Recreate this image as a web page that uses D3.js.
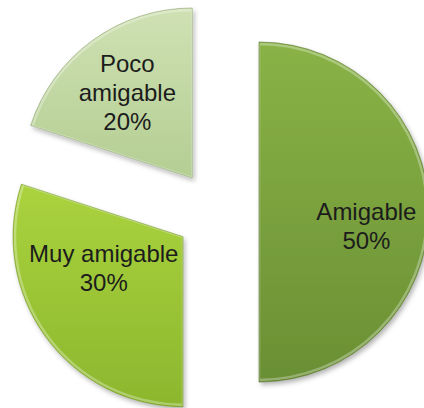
<!DOCTYPE html>
<html>
<head>
<meta charset="utf-8">
<script src="https://cdn.jsdelivr.net/npm/d3@7"></script>
<style>
  html, body { margin: 0; padding: 0; background: #fff; }
  svg { display: block; }
</style>
</head>
<body>
<div id="chart"></div>
<script>
const categories = ['Amigable', 'Muy amigable', 'Poco amigable']
const values = [50, 30, 20]
const labelLines = [['Amigable', '50%'], ['Muy amigable', '30%'], ['Poco', 'amigable', '20%']]

const width = 424
const height = 408
const cx = 217, cy = 212
const radius = 170
const explode = 42

// light -> dark gradient stops for each slice
const colors = [
  ['#89b346', '#6a8f34'],
  ['#abd33e', '#8cb72e'],
  ['#cfe1b3', '#b4ce93']
]
// Excel shuffles labels around a bit so they fit
const labelNudge = [[2, 14], [6, -30], [-3, 0]]

const svg = d3.select('#chart').append('svg')
  .attr('width', width).attr('height', height)
  .attr('viewBox', `0 0 ${width} ${height}`)

const defs = svg.append('defs')
colors.forEach((c, i) => {
  const grad = defs.append('linearGradient').attr('id', `grad${i}`)
    .attr('x1', 0).attr('y1', 0).attr('x2', 0).attr('y2', 1)
  grad.append('stop').attr('offset', '0%').attr('stop-color', c[0])
  grad.append('stop').attr('offset', '100%').attr('stop-color', c[1])
})
const shadow = defs.append('filter').attr('id', 'shadow')
  .attr('x', '-10%').attr('y', '-10%').attr('width', '120%').attr('height', '120%')
shadow.append('feDropShadow').attr('dx', 2).attr('dy', 3).attr('stdDeviation', 2.5)
  .attr('flood-color', '#000').attr('flood-opacity', 0.3)

const pie = d3.pie().sort(null).value(d => d)
const arcs = pie(values)
const arc = d3.arc().innerRadius(0).outerRadius(radius)
const labelArc = d3.arc().innerRadius(radius * 0.62).outerRadius(radius * 0.62)

const g = svg.append('g').attr('transform', `translate(${cx},${cy})`)

const slices = g.selectAll('g.slice').data(arcs).join('g')
  .attr('class', 'slice')
  .attr('transform', d => {
    const mid = (d.startAngle + d.endAngle) / 2
    return `translate(${explode * Math.sin(mid)},${-explode * Math.cos(mid)})`
  })

slices.append('path')
  .attr('d', arc)
  .attr('fill', (d, i) => `url(#grad${i})`)
  .attr('filter', 'url(#shadow)')

// bevel: light inner edge + darker rim
slices.append('path')
  .attr('d', d3.arc().innerRadius(0).outerRadius(radius - 2))
  .attr('fill', 'none')
  .attr('stroke', '#fff').attr('stroke-opacity', 0.3).attr('stroke-width', 2.5)
slices.append('path')
  .attr('d', arc)
  .attr('fill', 'none')
  .attr('stroke', (d, i) => d3.color(colors[i][1]).darker(0.6))
  .attr('stroke-opacity', 0.6).attr('stroke-width', 1)

const lineH = 29
slices.append('text')
  .attr('transform', (d, i) => {
    const [x, y] = labelArc.centroid(d)
    return `translate(${x + labelNudge[i][0]},${y + labelNudge[i][1]})`
  })
  .attr('text-anchor', 'middle')
  .style('font-family', '"Liberation Sans", Arial, sans-serif')
  .style('font-size', '24px')
  .attr('fill', '#1c1c1c')
  .each(function (d, i) {
    const lines = labelLines[i]
    const t = d3.select(this)
    lines.forEach((ln, j) => {
      t.append('tspan').attr('x', 0)
        .attr('y', (j - (lines.length - 1) / 2) * lineH + 8)
        .text(ln)
    })
  })
</script>
</body>
</html>
